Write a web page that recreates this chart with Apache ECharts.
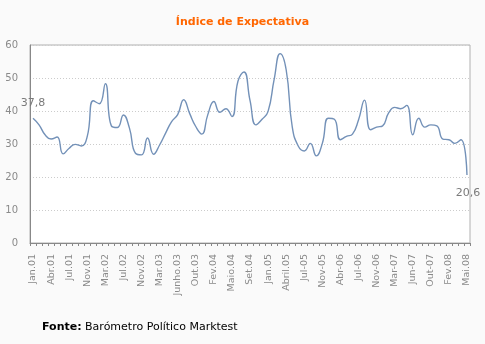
<!DOCTYPE html>
<html>
<head>
<meta charset="utf-8">
<script src="https://cdn.jsdelivr.net/npm/echarts@6/dist/echarts.min.js"></script>
<style>
html,body{margin:0;padding:0;background:#fafafa;}
#c{width:485px;height:344px;}
</style>
</head>
<body>
<div id="c"></div>
<script>
const tickLabels = ['Jan.01','Abr.01','Jul.01','Nov.01','Mar.02','Jul.02','Nov.02','Mar.03','Junho.03','Out.03','Fev.04','Maio.04','Set.04','Jan.05','Abril.05','Jul-05','Nov-05','Abr-06','Jul-06','Nov-06','Mar-07','Jun-07','Out-07','Fev.08','Mai.08'];
const values = [37.8,35.8,32.8,31.5,32.1,27.0,28.7,29.9,29.4,32.3,
  43.1,42.2,48.3,35.5,35.0,38.8,34.8,27.2,26.7,31.8,
  26.9,29.7,33.3,36.8,38.9,43.4,39.2,35.3,33.0,38.9,
  42.9,39.6,40.7,38.3,49.0,51.8,43.2,35.8,37.5,39.9,
  49.5,57.4,52.5,35.3,29.4,27.9,30.2,26.4,30.2,37.8,
  37.5,31.3,32.3,33.0,37.3,43.3,34.3,35.1,35.5,39.4,
  41.1,40.7,41.7,32.8,37.8,35.1,35.8,35.5,31.5,31.3,
  30.2,31.3,20.6];
const yTicks = [0,10,20,30,40,50,60];
const categories = values.map((v,i)=> i%3===0 ? tickLabels[i/3] : String(i));
const fmt = v => String(v).replace('.', ',');

const chart = echarts.init(document.getElementById('c'), null, {renderer:'canvas'});
chart.setOption({
  backgroundColor:'#fafafa',
  animation:false,
  title:{
    text:'Índice de Expectativa',
    left:'center', top:12,
    textStyle:{color:'#ff6600', fontFamily:'DejaVu Sans', fontSize:11, fontWeight:'bold'}
  },
  grid:{left:30, right:15, top:45, bottom:101, show:true, backgroundColor:'#ffffff', borderColor:'#b0b0b0', borderWidth:1},
  xAxis:{
    type:'category', data:categories, boundaryGap:true,
    axisLine:{lineStyle:{color:'#888', width:1}},
    axisTick:{show:true, interval:0, length:3, lineStyle:{color:'#888'}},
    axisLabel:{interval:2, rotate:90, margin:11, color:'#8a8a8a', fontFamily:'DejaVu Sans', fontSize:9.5},
    splitLine:{show:false}
  },
  yAxis:{
    type:'value', min:yTicks[0], max:yTicks[yTicks.length-1], interval:10,
    axisLine:{show:true, lineStyle:{color:'#888', width:1}},
    axisTick:{show:false},
    axisLabel:{color:'#8a8a8a', fontFamily:'DejaVu Sans', fontSize:10, margin:12},
    splitLine:{show:true, lineStyle:{color:'#cccccc', type:[1,2], width:1}}
  },
  series:[{
    type:'line', data:values,
    smooth:0.5, showSymbol:false, symbol:'none',
    lineStyle:{color:'#7391b8', width:1.4},
    label:{show:false},
    markPoint:{
      symbol:'circle', symbolSize:1,
      itemStyle:{color:'rgba(0,0,0,0)'},
      label:{show:true, color:'#7a7a7a', fontFamily:'DejaVu Sans', fontSize:11, formatter:p=>fmt(p.value)},
      data:[
        {coord:[0, values[0]], value:values[0], label:{position:'top', offset:[0,-4]}},
        {coord:[values.length-1, values[values.length-1]], value:values[values.length-1], label:{position:'bottom', offset:[1,7]}}
      ]
    }
  }],
  graphic:[{
    type:'text', left:42, top:322,
    style:{
      text:'{b|Fonte:} Barómetro Político Marktest',
      rich:{b:{fontWeight:'bold', fontFamily:'DejaVu Sans', fontSize:11, fill:'#000'}},
      fontFamily:'DejaVu Sans', fontSize:11, fill:'#000'
    }
  }]
});
</script>
</body>
</html>
